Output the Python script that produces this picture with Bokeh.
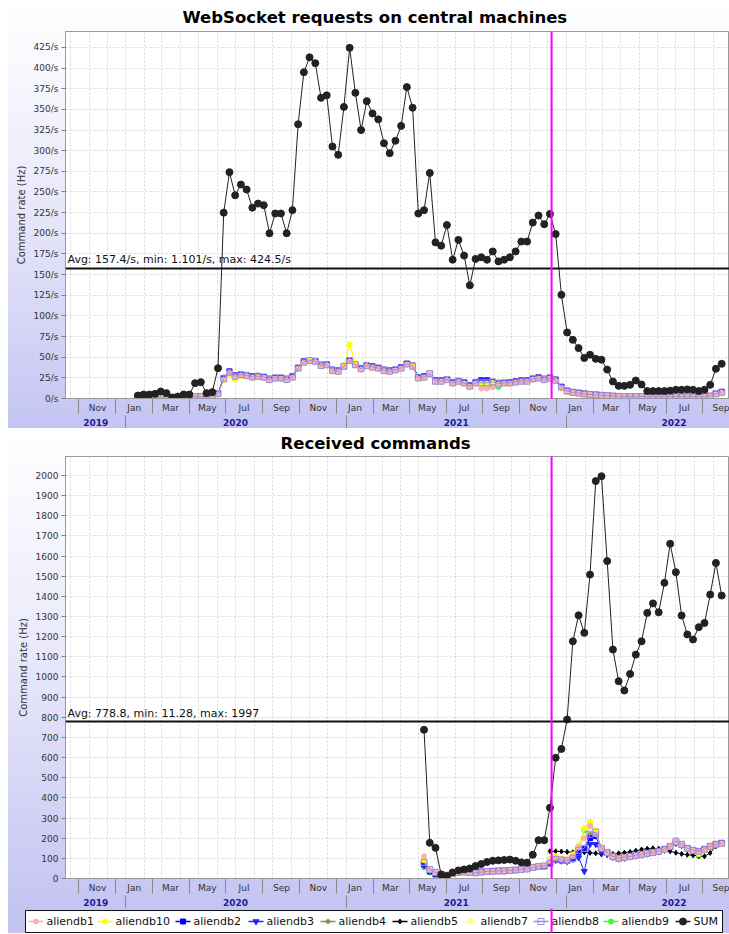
import pandas as pd
from bokeh.plotting import figure
from bokeh.models import (FixedTicker, LinearAxis, Span, Label, Range1d,
                          PrintfTickFormatter, BoxAnnotation)
from bokeh.core.properties import value
from bokeh.layouts import column
from bokeh.embed import file_html
from bokeh.resources import INLINE

# ------------------------------------------------------------------ data
EPOCH = pd.Timestamp("2019-01-01")


def dnum(d):
    return int(round((pd.Timestamp(d) - EPOCH) / pd.Timedelta(days=1)))


def fnum(d):
    return (pd.Timestamp(d) - EPOCH) / pd.Timedelta(days=1)


# sampling instants of the series
sample_dates = pd.date_range("2020-01-21", "2022-09-15", periods=103)
BOTTOM_FIRST = 50          # received-commands series start at this sample

x_start_date = "2019-09-23"
x_end_date = "2022-09-28"
marker_date = "2021-12-07"

month_tick_dates = ["2019-11-15", "2020-01-15", "2020-03-15", "2020-05-15", "2020-07-15",
                    "2020-09-15", "2020-11-15", "2021-01-15", "2021-03-15", "2021-05-15",
                    "2021-07-15", "2021-09-15", "2021-11-15", "2022-01-15", "2022-03-15",
                    "2022-05-15", "2022-07-15", "2022-09-15"]
month_tick_labels = ["Nov", "Jan", "Mar", "May", "Jul", "Sep", "Nov", "Jan", "Mar", "May",
                     "Jul", "Sep", "Nov", "Jan", "Mar", "May", "Jul", "Sep"]
month_sep_dates = ["2019-10-15", "2019-12-15", "2020-02-15", "2020-04-15", "2020-06-15",
                   "2020-08-15", "2020-10-15", "2020-12-15", "2021-02-15", "2021-04-15",
                   "2021-06-15", "2021-08-15", "2021-10-15", "2021-12-15", "2022-02-15",
                   "2022-04-15", "2022-06-15", "2022-08-15"]
year_tick_dates = ["2019-11-12", "2020-07-01", "2021-07-02", "2022-06-28"]
year_tick_labels = ["2019", "2020", "2021", "2022"]
year_sep_dates = ["2020-01-01", "2021-01-01", "2022-01-01"]
grid_month_dates = list(pd.date_range("2019-10-01", "2022-09-01", freq="MS"))

top_yticks = list(range(0, 426, 25))
bottom_yticks = list(range(0, 2001, 100))

# WebSocket requests (per second)
top_sum = [3.6, 4.8, 4.8, 5.6, 8.5, 6.5, 1.1, 2.4, 4.8, 4.8, 18.6, 19.8, 6.5, 7.7, 36.7,
           225, 274, 246, 259, 253, 231, 236, 234, 200, 224, 224, 200, 228, 332, 395,
           413, 406, 364, 367, 305, 295, 353, 424.5, 370, 325, 360, 345, 338, 309, 297,
           312, 330, 377, 352, 224, 228, 273, 189, 185, 210,
           168, 192, 173, 137, 169, 171, 168, 178, 166, 168, 171, 178, 190, 190, 213,
           221.5, 211, 223.5, 199,
           125.5, 80, 71, 61, 49, 53, 48, 47, 35, 20.6, 15.3, 15.3, 16.5, 21.8, 17,
           9, 9, 9, 9, 9.5, 10.5, 10.5, 11, 10.5, 9, 10.5, 16.5, 36, 42]
top_db8 = [2, 2, 2, 2, 2, 2, 1.5, 1.5, 2, 2, 2.5, 2.5, 2, 3, 6,
           24, 32, 27, 29, 28, 26, 27, 26, 23, 25, 25, 23, 26, 37, 44,
           46, 45, 40, 41, 34, 33, 39, 46, 41, 36, 40, 38, 37, 34, 33,
           35, 37, 42, 39, 25, 26, 30, 21, 21, 23,
           19, 21, 19, 15, 19, 19, 19, 20, 18, 19, 19, 20, 21, 21, 24,
           25, 23, 25, 22,
           14, 9, 7.5, 6.5, 5.5, 5, 4.5, 4, 3.6, 3, 2.6, 2.4, 2.4, 2.4, 2.4,
           2.2, 2.2, 2.2, 2.2, 2.2, 2.2, 2.2, 2.2, 2.2, 2.2, 2.2, 3, 5.7, 7.7]
top_db10 = [2, 2, 2, 2, 2, 2, 1.5, 1.5, 2, 2, 2.5, 2.5, 2, 3, 5,
            22, 28, 23, 27, 27, 25, 26, 25, 22, 24, 24, 22, 25, 36, 43,
            47, 44, 39, 40, 33, 32, 40, 65, 43, 35, 39, 37, 36, 33, 32,
            34, 36, 41, 40, 24, 25, 31, 20, 20, 22,
            18, 20, 18, 14, 18, 18, 18, 19, 17, 18, 18, 19, 20, 20, 23,
            24, 22, 24, 21,
            12, 8, 7, 6, 5, 4.5, 4, 3.6, 3.2, 2.8, 2.5, 2.3, 2.3, 2.3, 2.3,
            2, 2, 2, 2, 2, 2, 2, 2, 2, 2, 2, 2.8, 5, 6]
top_db1 = [1.5, 1.5, 1.5, 1.5, 2, 1.5, 1.2, 1.2, 1.5, 1.5, 2, 2, 1.5, 2.5, 5,
           23, 31, 26, 28, 27, 25, 26, 25, 22, 24, 24, 22, 25, 36, 43,
           45, 44, 39, 40, 33, 32, 38, 45, 40, 35, 39, 37, 36, 33, 32,
           34, 36, 41, 38, 24, 25, 29, 20, 20, 22,
           18, 20, 18, 14, 18, 12, 12, 14, 17, 18, 18, 19, 20, 20, 23,
           24, 22, 24, 21,
           13, 8.5, 7, 6, 5, 4.6, 4.2, 3.8, 3.4, 2.8, 2.5, 2.3, 2.3, 2.3, 2.3,
           2.1, 2.1, 2.1, 2.1, 2.1, 2.1, 2.1, 2.1, 2.1, 2.1, 2.1, 2.8, 5.2, 7]
top_db3 = [2, 2, 2, 2, 2, 2, 1.5, 1.5, 2, 2, 2.5, 2.5, 2, 3, 6,
           25, 33, 28, 29, 28, 27, 27, 26, 24, 25, 25, 24, 27, 37, 45,
           46, 45, 41, 41, 35, 34, 39, 46, 41, 37, 40, 39, 37, 35, 34,
           35, 38, 42, 40, 26, 27, 30, 22, 22, 23,
           20, 21, 20, 16, 20, 22, 22, 20, 19, 19, 20, 21, 22, 22, 24,
           26, 24, 25, 23,
           14, 9.5, 8, 7, 6, 5.2, 4.7, 4.2, 3.8, 3.2, 2.7, 2.5, 2.5, 2.5, 2.5,
           2.3, 2.3, 2.3, 2.3, 2.3, 2.3, 2.3, 2.3, 2.3, 2.3, 2.3, 3.2, 6, 8]
top_db9 = [2, 2, 2, 2, 2, 2, 1.5, 1.5, 2, 2, 2.5, 2.5, 2, 3, 6,
           24, 32, 27, 29, 28, 26, 27, 26, 23, 25, 25, 23, 26, 37, 44,
           46, 45, 40, 41, 34, 33, 39, 46, 41, 36, 40, 38, 37, 34, 33,
           35, 37, 42, 39, 25, 26, 30, 21, 21, 23,
           19, 21, 19, 15, 19, 19, 14, 14, 14, 19, 19, 20, 21, 21, 24,
           25, 23, 25, 22,
           14, 9, 7.5, 6.5, 5.5, 5, 4.5, 4, 3.6, 3, 2.6, 2.4, 2.4, 2.4, 2.4,
           2.2, 2.2, 2.2, 2.2, 2.2, 2.2, 2.2, 2.2, 2.2, 2.2, 2.2, 3, 5.7, 7.7]

# Received commands (Hz), samples 50..102
bottom_sum = [738, 177, 152, 20, 12, 30, 40, 45, 50, 62, 72, 82, 88, 90, 92, 94, 88, 80, 78, 118,
              190, 190, 351, 599, 643, 789, 1177, 1306, 1219, 1508, 1972, 1996, 1575, 1136,
              979, 933, 1015, 1111, 1177, 1318, 1365, 1321, 1467, 1661, 1520, 1305, 1211,
              1186, 1247, 1268, 1409, 1566, 1404]
bottom_db8 = [80, 45, 30, 20, 15, 25, 30, 32, 30, 28, 32, 35, 36, 38, 38, 40, 42, 45, 48, 55,
              60, 62, 75, 95, 92, 90, 100, 140, 150, 220, 230, 150, 130, 110, 100, 105, 110,
              115, 120, 125, 130, 135, 145, 160, 185, 170, 150, 140, 135, 145, 160, 170, 175]
bottom_db10 = [90, 40, 28, 18, 14, 24, 29, 31, 30, 28, 31, 34, 35, 37, 38, 40, 41, 44, 47, 54,
               62, 66, 95, 110, 100, 95, 120, 165, 250, 280, 240, 150, 125, 108, 100, 104, 108,
               113, 118, 124, 129, 134, 142, 158, 180, 168, 148, 138, 120, 140, 158, 168, 172]
bottom_db1 = [110, 42, 28, 18, 14, 24, 29, 31, 30, 28, 31, 34, 35, 37, 38, 40, 41, 44, 47, 54,
              61, 64, 85, 100, 95, 92, 110, 155, 200, 260, 220, 150, 128, 108, 100, 104, 108,
              113, 118, 124, 129, 134, 143, 158, 190, 170, 150, 140, 133, 143, 160, 168, 173]
bottom_db2 = [70, 35, 22, 12, 18, 30, 38, 40, 36, 32, 34, 36, 37, 38, 39, 41, 42, 45, 48, 55,
              60, 62, 75, 92, 90, 88, 98, 130, 145, 200, 210, 145, 128, 108, 100, 104, 110,
              115, 120, 125, 130, 135, 145, 158, 180, 168, 150, 140, 135, 145, 160, 170, 175]
bottom_db3 = [65, 38, 25, 14, 16, 28, 36, 38, 35, 31, 33, 35, 36, 38, 38, 40, 42, 45, 48, 55,
              60, 62, 75, 90, 88, 86, 96, 104, 36, 170, 170, 130, 120, 106, 98, 102, 108,
              113, 118, 123, 128, 133, 142, 156, 176, 165, 148, 138, 132, 142, 158, 168, 174]
bottom_db9 = [55, 30, 10, 12, 14, 24, 29, 31, 30, 28, 31, 34, 35, 37, 38, 40, 41, 44, 47, 54,
              60, 64, 95, 108, 98, 92, 115, 160, 240, 270, 230, 150, 125, 106, 100, 104, 108,
              113, 118, 124, 129, 134, 142, 158, 182, 168, 148, 138, 110, 140, 158, 168, 172]
BOTTOM_DB5_FIRST = 72
bottom_db5 = [135, 135, 134, 132, 130, 132, 130, 127, 125, 120, 119, 122, 125, 128, 132, 138,
              144, 148, 150, 148, 140, 135, 128, 122, 118, 115, 112, 110, 127, 160, 170]

legend_order = ["aliendb1", "aliendb10", "aliendb2", "aliendb3", "aliendb4", "aliendb5",
                "aliendb7", "aliendb8", "aliendb9", "SUM"]

# ------------------------------------------------------------------ styling / layout
FONT = "DejaVu Sans"
X0, X1 = fnum(x_start_date), fnum(x_end_date)
FRAME_W = 664
LEFT_W = 57
STRIP_W = FRAME_W + LEFT_W
DAYS_PER_PX = (X1 - X0) / FRAME_W

# legend strip layout (pixels inside the strip)
legend_box = (17, 714)
legend_item_x = [20, 89, 167, 240, 312, 384, 454, 525, 595, 667]
legend_glyph_w = 15

series_style = {
    "aliendb1": dict(color="#ffafaf", marker="circle", size=5, fill=1.0),
    "aliendb10": dict(color="#ffff00", marker="circle", size=5, fill=1.0),
    "aliendb2": dict(color="#0000ff", marker="square", size=5, fill=1.0),
    "aliendb3": dict(color="#2222ff", marker="inverted_triangle", size=6, fill=1.0),
    "aliendb4": dict(color="#8f8f55", marker="circle", size=4, fill=1.0),
    "aliendb5": dict(color="#000000", marker="diamond", size=5, fill=1.0),
    "aliendb7": dict(color="#ffff80", marker="circle", size=5, fill=1.0),
    "aliendb8": dict(color="#9a8fe0", marker="square", size=6, fill=0.0),
    "aliendb9": dict(color="#33ff33", marker="circle", size=5, fill=1.0),
    "SUM": dict(color="#222222", marker="circle", size=7, fill=1.0),
}
GRADIENT = "linear-gradient(to bottom, #ffffff 0%, #eaeafb 45%, #c4c4f3 100%)"


def make_fig(title, frame_h, ymax, yticks, fmt, min_top, min_bottom, title_offset, standoff):
    p = figure(frame_width=FRAME_W, frame_height=frame_h,
               x_range=Range1d(X0, X1), y_range=Range1d(0, ymax),
               output_backend="svg", toolbar_location=None,
               min_border_left=LEFT_W, min_border_right=0,
               min_border_top=min_top, min_border_bottom=min_bottom)
    p.margin = (0, 0, 0, 8)
    p.styles = {"background": GRADIENT}
    p.border_fill_color = None
    p.background_fill_color = "white"
    p.outline_line_color = "#9a9a9a"
    p.outline_line_width = 1

    p.title.text = title
    p.title.text_font = FONT
    p.title.text_font_size = "16.5px"
    p.title.text_font_style = "bold"
    p.title.text_color = "black"
    p.title.align = "left"
    p.title.offset = title_offset
    p.title.standoff = standoff

    # y axis
    ya = p.yaxis[0]
    ya.ticker = FixedTicker(ticks=yticks, minor_ticks=[])
    if fmt:
        ya.formatter = PrintfTickFormatter(format=fmt)
    ya.axis_label = "Command rate (Hz)"
    ya.axis_label_text_font = FONT
    ya.axis_label_text_font_size = "10px"
    ya.axis_label_text_font_style = "normal"
    ya.axis_label_text_color = "#333333"
    ya.axis_label_standoff = 4
    ya.major_label_text_font = FONT
    ya.major_label_text_font_size = "9px"
    ya.major_label_text_color = "#333333"
    ya.major_label_standoff = 3
    ya.major_tick_out = 4
    ya.major_tick_in = 0
    ya.major_tick_line_color = "#808080"
    ya.axis_line_color = "#9a9a9a"

    # month axis
    xa = p.xaxis[0]
    xa.ticker = FixedTicker(ticks=[dnum(d) for d in month_tick_dates],
                            minor_ticks=[dnum(d) for d in month_sep_dates])
    xa.major_label_overrides = {dnum(d): lab for d, lab in zip(month_tick_dates, month_tick_labels)}
    xa.major_label_text_font = FONT
    xa.major_label_text_font_size = "9px"
    xa.major_label_text_color = "#333333"
    xa.major_label_standoff = -11
    xa.major_tick_line_color = None
    xa.major_tick_out = 0
    xa.major_tick_in = 0
    xa.minor_tick_out = 15
    xa.minor_tick_in = 0
    xa.minor_tick_line_color = "#8a8a8a"
    xa.axis_line_color = "#9a9a9a"

    # year axis
    ya2 = LinearAxis(ticker=FixedTicker(ticks=[dnum(d) for d in year_tick_dates],
                                        minor_ticks=[dnum(d) for d in year_sep_dates]))
    ya2.major_label_overrides = {dnum(d): lab for d, lab in zip(year_tick_dates, year_tick_labels)}
    ya2.major_label_text_font = FONT
    ya2.major_label_text_font_size = "9px"
    ya2.major_label_text_font_style = "bold"
    ya2.major_label_text_color = "#1c1c96"
    ya2.major_label_standoff = -11
    ya2.major_tick_line_color = None
    ya2.major_tick_out = 0
    ya2.major_tick_in = 0
    ya2.minor_tick_out = 14
    ya2.minor_tick_in = 0
    ya2.minor_tick_line_color = "#8a8a8a"
    ya2.axis_line_color = None
    p.add_layout(ya2, "below")

    # grids
    p.ygrid.ticker = FixedTicker(ticks=yticks)
    p.xgrid.ticker = FixedTicker(ticks=[dnum(d) for d in grid_month_dates])
    for g in (p.xgrid[0], p.ygrid[0]):
        g.grid_line_color = "#d6d6d6"
        g.grid_line_dash = "2 2"
        g.grid_line_width = 1
    return p


def add_series(p, name, xs, ys):
    st = series_style[name]
    p.line(xs, ys, line_color=st["color"], line_width=1)
    p.scatter(xs, ys, marker=st["marker"], size=st["size"],
              fill_color=st["color"], fill_alpha=st["fill"], line_color=st["color"])


def add_avg(p, avg, text):
    p.add_layout(Span(location=avg, dimension="width", line_color="#111111", line_width=2))
    p.add_layout(Label(x=X0, y=avg, text=text, x_offset=2, y_offset=2,
                       text_font=FONT, text_font_size="11px", text_color="#111111",
                       text_baseline="bottom"))


def marker_box(units, top, bottom, center=None, half=1.7):
    c = fnum(marker_date) if center is None else center
    return BoxAnnotation(left=c - half, right=c + half, top=top, bottom=bottom,
                         top_units=units, bottom_units=units,
                         fill_color="#ff00ff", fill_alpha=1.0, line_alpha=0)


x_top = [fnum(d) for d in sample_dates]
x_bot = x_top[BOTTOM_FIRST:]
x_db5 = x_top[BOTTOM_DB5_FIRST:]

draw_order = ["aliendb9", "aliendb7", "aliendb4", "aliendb5", "aliendb2", "aliendb3",
              "aliendb10", "aliendb1", "aliendb8"]

# ------------------------------------------------------------------ top chart
p1 = make_fig("WebSocket requests on central machines", 367, 444.3, top_yticks, "%d/s",
              31, 29, 117, 10)
top_values = {"aliendb9": top_db9, "aliendb7": top_db10, "aliendb4": top_db8,
              "aliendb5": top_db8, "aliendb2": top_db3, "aliendb3": top_db3,
              "aliendb10": top_db10, "aliendb1": top_db1, "aliendb8": top_db8}
for name in draw_order:
    add_series(p1, name, x_top, top_values[name])
add_series(p1, "SUM", x_top, top_sum)
add_avg(p1, 157.4, "Avg: 157.4/s, min: 1.101/s, max: 424.5/s")
p1.add_layout(marker_box("screen", -3000, 3000))

# ------------------------------------------------------------------ bottom chart
p2 = make_fig("Received commands", 422, 2094, bottom_yticks, None, 28, 29, 215, 7)
bottom_values = {"aliendb9": bottom_db9, "aliendb7": bottom_db10, "aliendb4": bottom_db8,
                 "aliendb2": bottom_db2, "aliendb3": bottom_db3, "aliendb10": bottom_db10,
                 "aliendb1": bottom_db1, "aliendb8": bottom_db8}
for name in draw_order:
    if name == "aliendb5":
        add_series(p2, name, x_db5, bottom_db5)
    else:
        add_series(p2, name, x_bot, bottom_values[name])
add_series(p2, "SUM", x_bot, bottom_sum)
add_avg(p2, 778.8, "Avg: 778.8, min: 11.28, max: 1997")
p2.add_layout(marker_box("canvas", 0, 2000))

# ------------------------------------------------------------------ legend strip
p3 = figure(width=STRIP_W, height=25,
            x_range=Range1d(0, STRIP_W), y_range=Range1d(0, 25),
            output_backend="svg", toolbar_location=None,
            x_axis_location=None, y_axis_location=None,
            min_border_left=0, min_border_right=0, min_border_top=0, min_border_bottom=0)
p3.frame_align = False
p3.margin = (0, 0, 0, 8)
p3.styles = {"background": "#c4c4f3"}
p3.border_fill_color = None
p3.background_fill_color = None
p3.outline_line_color = None
p3.grid.visible = False
p3.quad(left=[legend_box[0]], right=[legend_box[1]], bottom=[1], top=[23],
        fill_color="white", line_color="#111111", line_width=1)
gy = 12
for name, gx in zip(legend_order, legend_item_x):
    st = series_style[name]
    p3.line([gx, gx + legend_glyph_w], [gy, gy], line_color=st["color"], line_width=1.5)
    p3.scatter([gx + legend_glyph_w / 2], [gy], marker=st["marker"], size=st["size"],
               fill_color=st["color"], fill_alpha=st["fill"], line_color=st["color"])
p3.text(x=[gx + legend_glyph_w + 3 for gx in legend_item_x], y=[gy] * len(legend_order),
        text=legend_order, text_font=value(FONT), text_font_size=value("11px"),
        text_color="#111111", text_baseline="middle", text_align="left")
strip_marker_x = LEFT_W + (fnum(marker_date) - X0) / DAYS_PER_PX
p3.add_layout(marker_box("canvas", 0, 100, center=strip_marker_x, half=1.0))

layout = column(p1, p2, p3, spacing=0)
open("out.html", "w").write(file_html(layout, INLINE))
